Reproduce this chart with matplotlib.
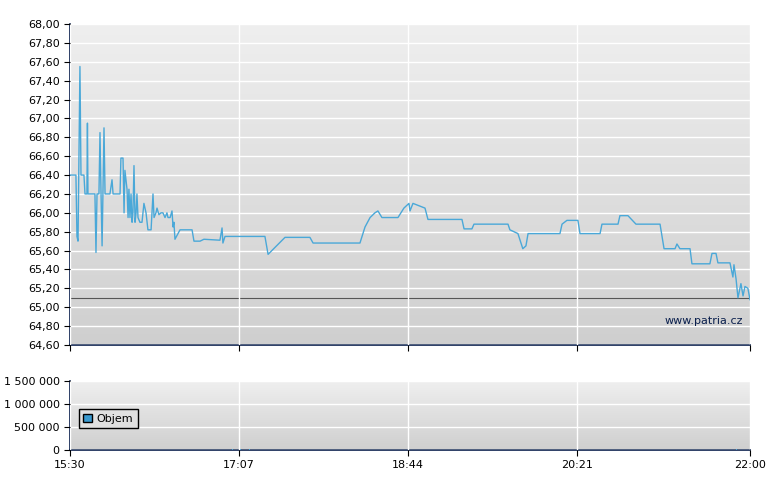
import matplotlib
matplotlib.use("Agg")
import matplotlib.pyplot as plt
import numpy as np

# minutes since 15:30
minutes = [0,3.4,4.0,4.6,5.7,6.3,8.0,8.6,9.7,10.0,10.3,14.3,14.9,15.5,16.6,17.2,17.8,18.4,19.5,20.1,
           22.9,24.1,24.7,28.7,29.2,30.4,31.0,31.5,32.7,33.3,33.8,34.4,35.0,35.6,36.1,36.7,37.3,37.9,38.4,39.0,
           40.1,41.3,42.4,43.6,44.7,46.5,47.0,47.6,48.2,49.3,49.9,51.0,52.2,53.3,54.5,55.6,56.2,57.4,58.5,59.1,
           59.6,60.2,63.1,70.0,71.1,74.6,76.8,86.0,87.2,87.7,88.9,111.8,113.6,123.3,137.6,139.4,166.3,169.2,172.1,174.9,
           176.6,178.9,188.1,191.5,194.4,195.0,196.7,203.6,205.3,224.8,226.0,230.5,231.7,251.2,252.3,256.9,259.7,261.5,262.7,281.0,
           282.2,285.0,291.3,292.5,304.0,305.1,314.3,315.4,320.0,324.6,338.4,340.7,347.0,348.1,349.8,355.6,356.7,367.0,368.2,370.5,
           371.6,378.5,380.2,380.8,382.0,383.1,384.8,386.0,387.1,388.8,390.0]
prices = [66.40,66.40,65.75,65.70,67.55,66.40,66.40,66.20,66.20,66.95,66.20,66.20,65.58,66.20,66.20,66.85,66.20,65.65,66.90,66.20,
          66.20,66.35,66.20,66.20,66.58,66.58,66.00,66.45,66.25,65.95,66.25,65.95,66.20,65.90,66.00,66.50,65.90,66.00,66.20,65.95,
          65.90,65.90,66.10,66.00,65.82,65.82,66.00,66.20,65.95,66.00,66.05,65.98,66.00,66.00,65.95,66.00,65.95,65.95,66.02,65.85,
          65.90,65.72,65.82,65.82,65.70,65.70,65.72,65.71,65.84,65.68,65.75,65.75,65.56,65.74,65.74,65.68,65.68,65.85,65.95,66.00,
          66.02,65.95,65.95,66.05,66.10,66.02,66.10,66.05,65.93,65.93,65.83,65.83,65.88,65.88,65.82,65.78,65.62,65.65,65.78,65.78,
          65.88,65.92,65.92,65.78,65.78,65.88,65.88,65.97,65.97,65.88,65.88,65.62,65.62,65.67,65.62,65.62,65.46,65.46,65.57,65.57,
          65.47,65.47,65.32,65.45,65.30,65.10,65.25,65.12,65.22,65.20,65.08]
prev_close = 65.10
vol_minutes = [48,50,52,60,91,93,95,98,100,103,106,110,118,124,135,158,160,224,226,240,262,264,300,305,380,382,388]
vol_values = [8000,6000,9000,7000,10000,12000,8000,15000,9000,11000,7000,8000,6000,9000,7000,10000,9000,7000,8000,6000,
              9000,7000,10000,8000,9000,12000,10000]
tick_pos = [0,97,194,291,390]
tick_labels = ["15:30","17:07","18:44","20:21","22:00"]

W, H = 780, 490
fig = plt.figure(figsize=(W/100, H/100), dpi=100)
navy = "#0a1f4d"
line_c = "#4aa8d8"

def setup(ax, ylim):
    ax.set_xlim(0, 390); ax.set_ylim(*ylim)
    ax.imshow(np.linspace(0, 1, 256).reshape(-1, 1), cmap=matplotlib.colors.LinearSegmentedColormap.from_list("g", ["#efefef", "#cfcfcf"]),
              extent=[0, 390, ylim[0], ylim[1]], aspect="auto", origin="upper", zorder=0)
    for s in ["top", "right"]:
        ax.spines[s].set_visible(False)
    for s in ["left", "bottom"]:
        ax.spines[s].set_color(navy); ax.spines[s].set_linewidth(1.2)
    ax.grid(True, color="white", linewidth=1)
    ax.set_axisbelow(False)
    ax.tick_params(colors="black", labelsize=8, direction="out", length=4)
    ax.set_xticks(tick_pos)

ax1 = fig.add_axes([70/W, 1-345/H, 680/W, 321/H])
setup(ax1, (64.6, 68.0))
ax1.set_yticks(np.round(np.arange(64.6, 68.01, 0.2), 2))
ax1.set_yticklabels([f"{v:.2f}".replace(".", ",") for v in np.arange(64.6, 68.01, 0.2)])
ax1.set_xticklabels([])
ax1.grid(True, color="white", linewidth=1, zorder=1)
ax1.plot(minutes, prices, color=line_c, linewidth=1, zorder=3)
ax1.axhline(prev_close, color="#555555", linewidth=0.8, zorder=2)
ax1.text(0.99, 0.06, "www.patria.cz", transform=ax1.transAxes, ha="right", va="bottom", fontsize=8, color="#0a1f4d", zorder=4)

ax2 = fig.add_axes([70/W, 1-450/H, 680/W, 69/H])
setup(ax2, (0, 1500000))
ax2.set_yticks([0, 500000, 1000000, 1500000])
ax2.set_yticklabels(["0", "500 000", "1 000 000", "1 500 000"])
ax2.set_xticklabels(tick_labels)
ax2.bar(vol_minutes, vol_values, width=0.6, color=line_c, zorder=3)
from matplotlib.patches import Patch
leg = ax2.legend(handles=[Patch(facecolor="#3a9ad0", edgecolor="black", label="Objem")], loc="center left",
                 bbox_to_anchor=(0.005, 0.45), fontsize=8, fancybox=False, framealpha=1, facecolor="#e0e0e0",
                 edgecolor="black", handlelength=0.8, handleheight=0.8, handletextpad=0.4)
leg.set_zorder(5)
fig.savefig("out.png", dpi=100)
